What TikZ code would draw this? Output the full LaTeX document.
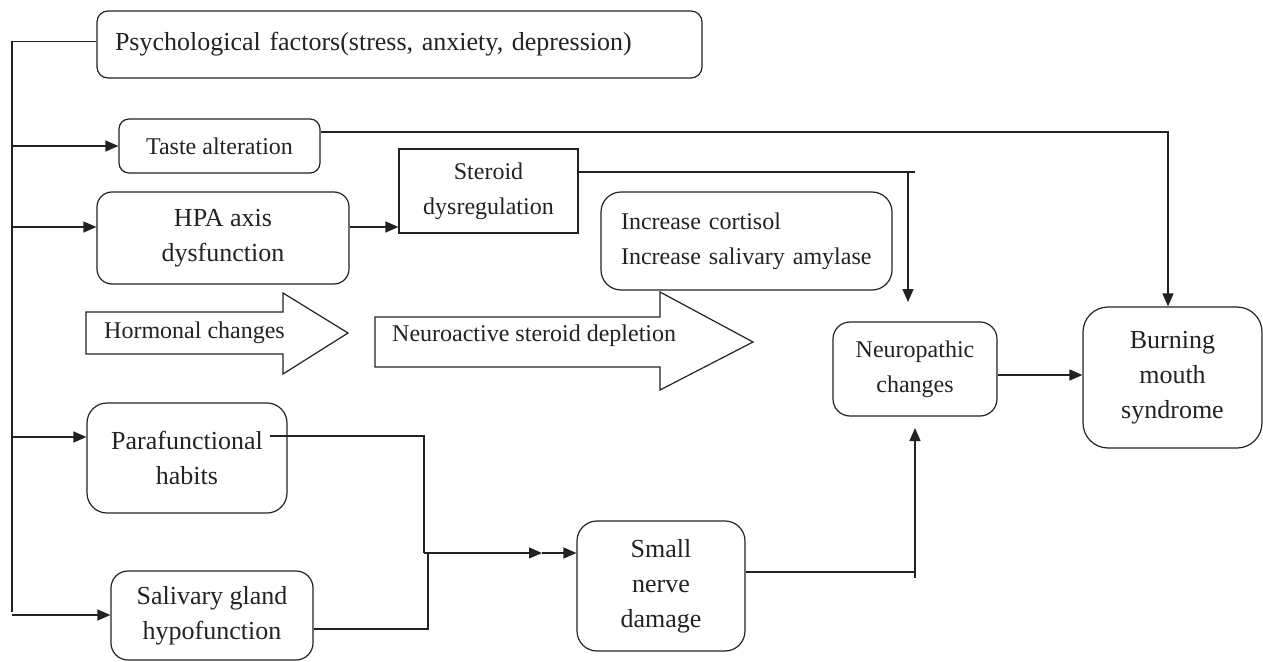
\documentclass[tikz,border=0pt]{standalone}
\usepackage{fontspec}
\setmainfont{Liberation Serif}
\usetikzlibrary{arrows.meta,calc}
\definecolor{ink}{HTML}{222222}
\begin{document}
\begin{tikzpicture}[x=1pt,y=-1pt,
  box/.style={draw=ink, line width=1.2pt, rounded corners=#1, inner sep=0pt,
    align=center, text=ink, font=\fontsize{24}{35}\selectfont},
  box/.default=16pt,
  bigtxt/.style={font=\fontsize{26}{35}\selectfont},
  conn/.style={draw=ink, line width=1.4pt},
  arr/.style={conn, -{Triangle[length=13pt,width=11pt]}},
  bigarrow/.style={draw=ink, line width=1.2pt, fill=white},
  lbl/.style={anchor=west, inner sep=0pt, text=ink, font=\fontsize{24}{35}\selectfont}
]
\useasboundingbox (0,0) rectangle (1263,661);

% boxes
\node[box=11pt, bigtxt, minimum width=605pt, minimum height=67pt, text width=569pt, align=left]
  (psych) at (399.5,44.5) {Psychological factors(stress, anxiety, depression)};
\node[box=10pt, minimum width=201pt, minimum height=54pt] (taste) at (219.5,146) {Taste alteration};
\node[box=15pt, bigtxt, minimum width=252pt, minimum height=92pt] (hpa) at (223,238) {HPA axis\\dysfunction};
\node[box=0pt, minimum width=179pt, minimum height=84pt] (steroid) at (488.5,191) {Steroid\\dysregulation};
\node[box=20pt, minimum width=291pt, minimum height=98pt, text width=251pt, align=left]
  (incr) at (746.5,241) {Increase cortisol\\Increase salivary amylase};
\node[box=17pt, minimum width=164pt, minimum height=94pt] (neuro) at (915,369) {Neuropathic\\changes};
\node[box=25pt, bigtxt, minimum width=179pt, minimum height=141pt] (bms) at (1172.5,377.5) {Burning\\mouth\\syndrome};
\node[box=20pt, bigtxt, minimum width=200pt, minimum height=110pt] (para) at (187,458) {Parafunctional\\habits};
\node[box=17pt, bigtxt, minimum width=202pt, minimum height=89pt] (sal) at (212,615.5) {Salivary gland\\hypofunction};
\node[box=20pt, bigtxt, minimum width=168pt, minimum height=130pt] (small) at (661,586) {Small\\nerve\\damage};

% big hollow arrows
\draw[bigarrow] (86,312) -- (283,312) -- (283,293) -- (348,333) -- (283,374) -- (283,354) -- (86,354) -- cycle;
\node[lbl] (horm) at (104,333) {Hormonal changes};
\draw[bigarrow] (375,317) -- (660,317) -- (660,292) -- (753,342) -- (660,390) -- (660,367) -- (375,367) -- cycle;
\node[lbl] (neuroact) at (392,336) {Neuroactive steroid depletion};

% left trunk
\coordinate (tTop) at (12,41.5);
\coordinate (tBot) at (12,612);
\coordinate (b1) at (12,146);
\coordinate (b2) at (12,227);
\coordinate (b3) at (12,437);
\coordinate (b4) at (12,615);
\draw[conn] (psych.west |- tTop) -- (tTop) -- (tBot);
\draw[arr] (b1) -- (b1 -| taste.west);
\draw[arr] (b2) -- (b2 -| hpa.west);
\draw[arr] (b3) -- (b3 -| para.west);
\draw[arr] (b4) -- (b4 -| sal.west);

% HPA -> steroid
\draw[arr] (b2 -| hpa.east) -- (b2 -| steroid.west);

% taste -> burning mouth
\coordinate (tasteY) at (0,132);
\coordinate (bmsX) at (1168,0);
\draw[arr] (tasteY -| taste.east) -- (bmsX |- tasteY) -- (bmsX |- bms.north);

% steroid -> neuropathic
\coordinate (stY) at (0,172);
\coordinate (stEnd) at (915,172);
\coordinate (stDrop) at (908,172);
\coordinate (stTip) at (908,302);
\draw[conn] (stY -| steroid.east) -- (stEnd);
\draw[arr] (stDrop) -- (stTip);

% neuropathic -> burning mouth
\coordinate (nbY) at (0,375);
\draw[arr] (nbY -| neuro.east) -- (nbY -| bms.west);

% parafunctional / salivary -> small nerve damage
\coordinate (pStart) at (270,436);
\coordinate (pCorner) at (424,436);
\coordinate (jn) at (424,553);
\coordinate (sCorner) at (428,629);
\coordinate (sJoin) at (428,553);
\coordinate (mid) at (542,553);
\draw[conn] (pStart) -- (pCorner) -- (jn);
\draw[conn] (sCorner -| sal.east) -- (sCorner) -- (sJoin);
\draw[arr] (jn) -- (mid);
\draw[arr] (mid) -- (mid -| small.west);

% small nerve damage -> neuropathic
\coordinate (snY) at (0,572);
\coordinate (snCorner) at (915,572);
\coordinate (snLow) at (915,578);
\coordinate (snTip) at (915,428);
\draw[conn] (snY -| small.east) -- (snCorner);
\draw[arr] (snLow) -- (snTip);
\end{tikzpicture}
\end{document}
